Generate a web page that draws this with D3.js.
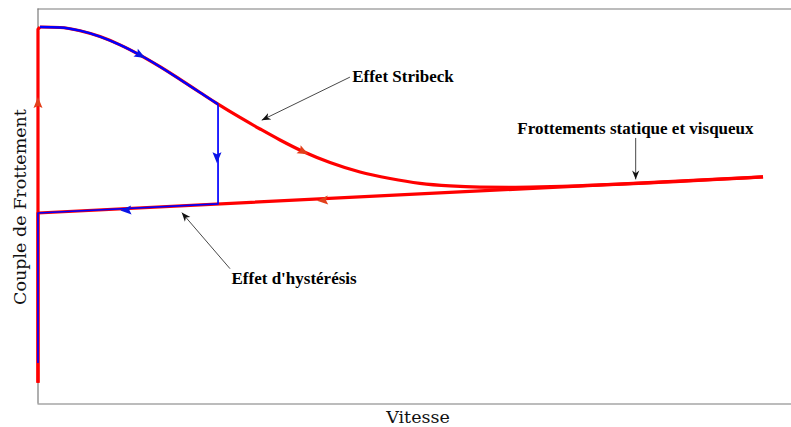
<!DOCTYPE html>
<html lang="fr">
<head>
  <meta charset="UTF-8">
  <title>Couple de Frottement</title>
  <script src="https://d3js.org/d3.v7.min.js"></script>
  <style>
    html, body { margin: 0; background: #fff; }
    svg { display: block; }
    .frame path { stroke: #7a7a7a; stroke-width: 1.2; }
    .axis-label { font-family: "DejaVu Serif", serif; font-size: 17.5px; fill: #111; }
    .note { font-family: "Liberation Serif", serif; font-weight: bold; font-size: 17px; fill: #000; }
    .note-line { stroke: #333; stroke-width: 0.9; fill: none; }
  </style>
</head>
<body>
  <div id="chart"></div>
  <script>
    const width = 791, height = 427;

    // Montée verticale (vitesse nulle, couple croissant)
    const monteeV = [0.0013, 0.0013, 0.0040];
    const monteeC = [0.051, 0.946, 0.9519];

    // Aller (rouge) : effet Stribeck puis frottement visqueux
    const stribeckV = [0.0040, 0.0305, 0.0570, 0.0836, 0.1101, 0.1366, 0.1631, 0.1897, 0.2162, 0.2401,
                       0.2692, 0.2958, 0.3223, 0.3528, 0.3886, 0.4284, 0.4682, 0.5080, 0.5477, 0.5875,
                       0.6273, 0.6671, 0.7069, 0.9629];
    const stribeckC = [0.9519, 0.9506, 0.9425, 0.9276, 0.9066, 0.8808, 0.8514, 0.8192, 0.7861, 0.7565,
                       0.7228, 0.6937, 0.6658, 0.6367, 0.6089, 0.5848, 0.5684, 0.5562, 0.5496, 0.5466,
                       0.5461, 0.5472, 0.5494, 0.5727];

    // Retour (rouge) : frottements statique et visqueux
    const retourV = [0.9629, 0.0013, 0.0013];
    const retourC = [0.5727, 0.481, 0.051];

    // Cycle avec hystérésis (bleu) : partie courbe puis chute et retour
    const hystCourbeV = stribeckV.slice(0, 10);
    const hystCourbeC = stribeckC.slice(0, 10);
    const hystRetourV = [0.2401, 0.2401, 0.0013, 0.0013];
    const hystRetourC = [0.7565, 0.504, 0.481, 0.101];

    // Flèches de sens de parcours
    const arrowV = [0.0013, 0.1366, 0.3528, 0.2387, 0.1185, 0.3793];
    const arrowC = [0.7595, 0.8808, 0.6367, 0.622, 0.488, 0.513];
    const arrowDir = [-90, 29, 27, 90, 177, 177];
    const arrowSerie = ["rouge", "bleu", "rouge", "bleu", "bleu", "rouge"];

    // Annotations
    const notes = [
      { text: "Effet Stribeck", tv: 0.418, tc: 0.826, fromV: 0.415, fromC: 0.825, toV: 0.298, toC: 0.716 },
      { text: "Frottements statique et visqueux", tv: 0.637, tc: 0.694, fromV: 0.794, fromC: 0.671, toV: 0.794, toC: 0.566 },
      { text: "Effet d'hystérésis", tv: 0.258, tc: 0.316, fromV: 0.256, fromC: 0.340, toV: 0.192, toC: 0.482 }
    ];

    const x = d3.scaleLinear().domain([0, 1]).range([37, 791]);
    const y = d3.scaleLinear().domain([0, 1]).range([403, 8]);
    const colors = { rouge: "#ff0000", bleu: "#0000ff" };
    const arrowColors = { rouge: "#e2401c", bleu: "#0a14e6" };

    const svg = d3.select("#chart").append("svg")
      .attr("width", width).attr("height", height);

    svg.append("defs").append("marker")
      .attr("id", "tip").attr("viewBox", "0 0 10 10")
      .attr("refX", 10).attr("refY", 5)
      .attr("markerWidth", 9).attr("markerHeight", 9)
      .attr("markerUnits", "userSpaceOnUse")
      .attr("orient", "auto")
      .append("path").attr("d", "M0,1 L10,5 L0,9 L3,5 Z").attr("fill", "#111");

    // Cadre
    svg.append("g").attr("class", "frame").attr("transform", `translate(0,${y(1) + 0.5})`)
      .call(d3.axisTop(x).ticks(0).tickSizeOuter(0));
    svg.append("g").attr("class", "frame").attr("transform", `translate(0,${y(0) + 0.5})`)
      .call(d3.axisBottom(x).ticks(0).tickSizeOuter(0));
    svg.append("g").attr("class", "frame").attr("transform", `translate(${x(0) + 0.5},0)`)
      .call(d3.axisLeft(y).ticks(0).tickSizeOuter(0));

    const zip = (vs, cs) => vs.map((v, i) => [v, cs[i]]);
    const smooth = d3.line().x(d => x(d[0])).y(d => y(d[1])).curve(d3.curveMonotoneX);
    const straight = d3.line().x(d => x(d[0])).y(d => y(d[1]));

    function draw(d, color, w) {
      svg.append("path").attr("d", d)
        .attr("fill", "none").attr("stroke", color).attr("stroke-width", w)
        .attr("stroke-linejoin", "round");
    }

    // Courbes rouges
    draw(straight(zip(monteeV, monteeC)), colors.rouge, 3.2);
    draw(smooth(zip(stribeckV, stribeckC)), colors.rouge, 3.2);
    draw(straight(zip(retourV, retourC)), colors.rouge, 3.2);

    // Courbe bleue (par-dessus)
    draw(smooth(zip(hystCourbeV, hystCourbeC)), colors.bleu, 2.3);
    draw(straight(zip(hystRetourV, hystRetourC)), colors.bleu, 1.7);

    // Flèches de parcours
    const tri = "M6,0 L-5,-4.5 L-3,0 L-5,4.5 Z";
    svg.selectAll("path.dir")
      .data(arrowV.map((v, i) => ({ v, c: arrowC[i], a: arrowDir[i], s: arrowSerie[i] })))
      .enter().append("path")
      .attr("class", "dir")
      .attr("d", tri)
      .attr("transform", d => `translate(${x(d.v)},${y(d.c)}) rotate(${d.a})`)
      .attr("fill", d => arrowColors[d.s]);

    // Annotations
    const g = svg.append("g");
    g.selectAll("line").data(notes).enter().append("line")
      .attr("class", "note-line")
      .attr("x1", d => x(d.fromV)).attr("y1", d => y(d.fromC))
      .attr("x2", d => x(d.toV)).attr("y2", d => y(d.toC))
      .attr("marker-end", "url(#tip)");
    g.selectAll("text").data(notes).enter().append("text")
      .attr("class", "note")
      .attr("x", d => x(d.tv)).attr("y", d => y(d.tc))
      .attr("dominant-baseline", "central")
      .text(d => d.text);

    // Titres des axes
    svg.append("text").attr("class", "axis-label")
      .attr("x", 418).attr("y", 417)
      .attr("text-anchor", "middle").attr("dominant-baseline", "central")
      .text("Vitesse");
    svg.append("text").attr("class", "axis-label")
      .attr("transform", "translate(20,207) rotate(-90)")
      .attr("text-anchor", "middle").attr("dominant-baseline", "central")
      .text("Couple de Frottement");
  </script>
</body>
</html>
